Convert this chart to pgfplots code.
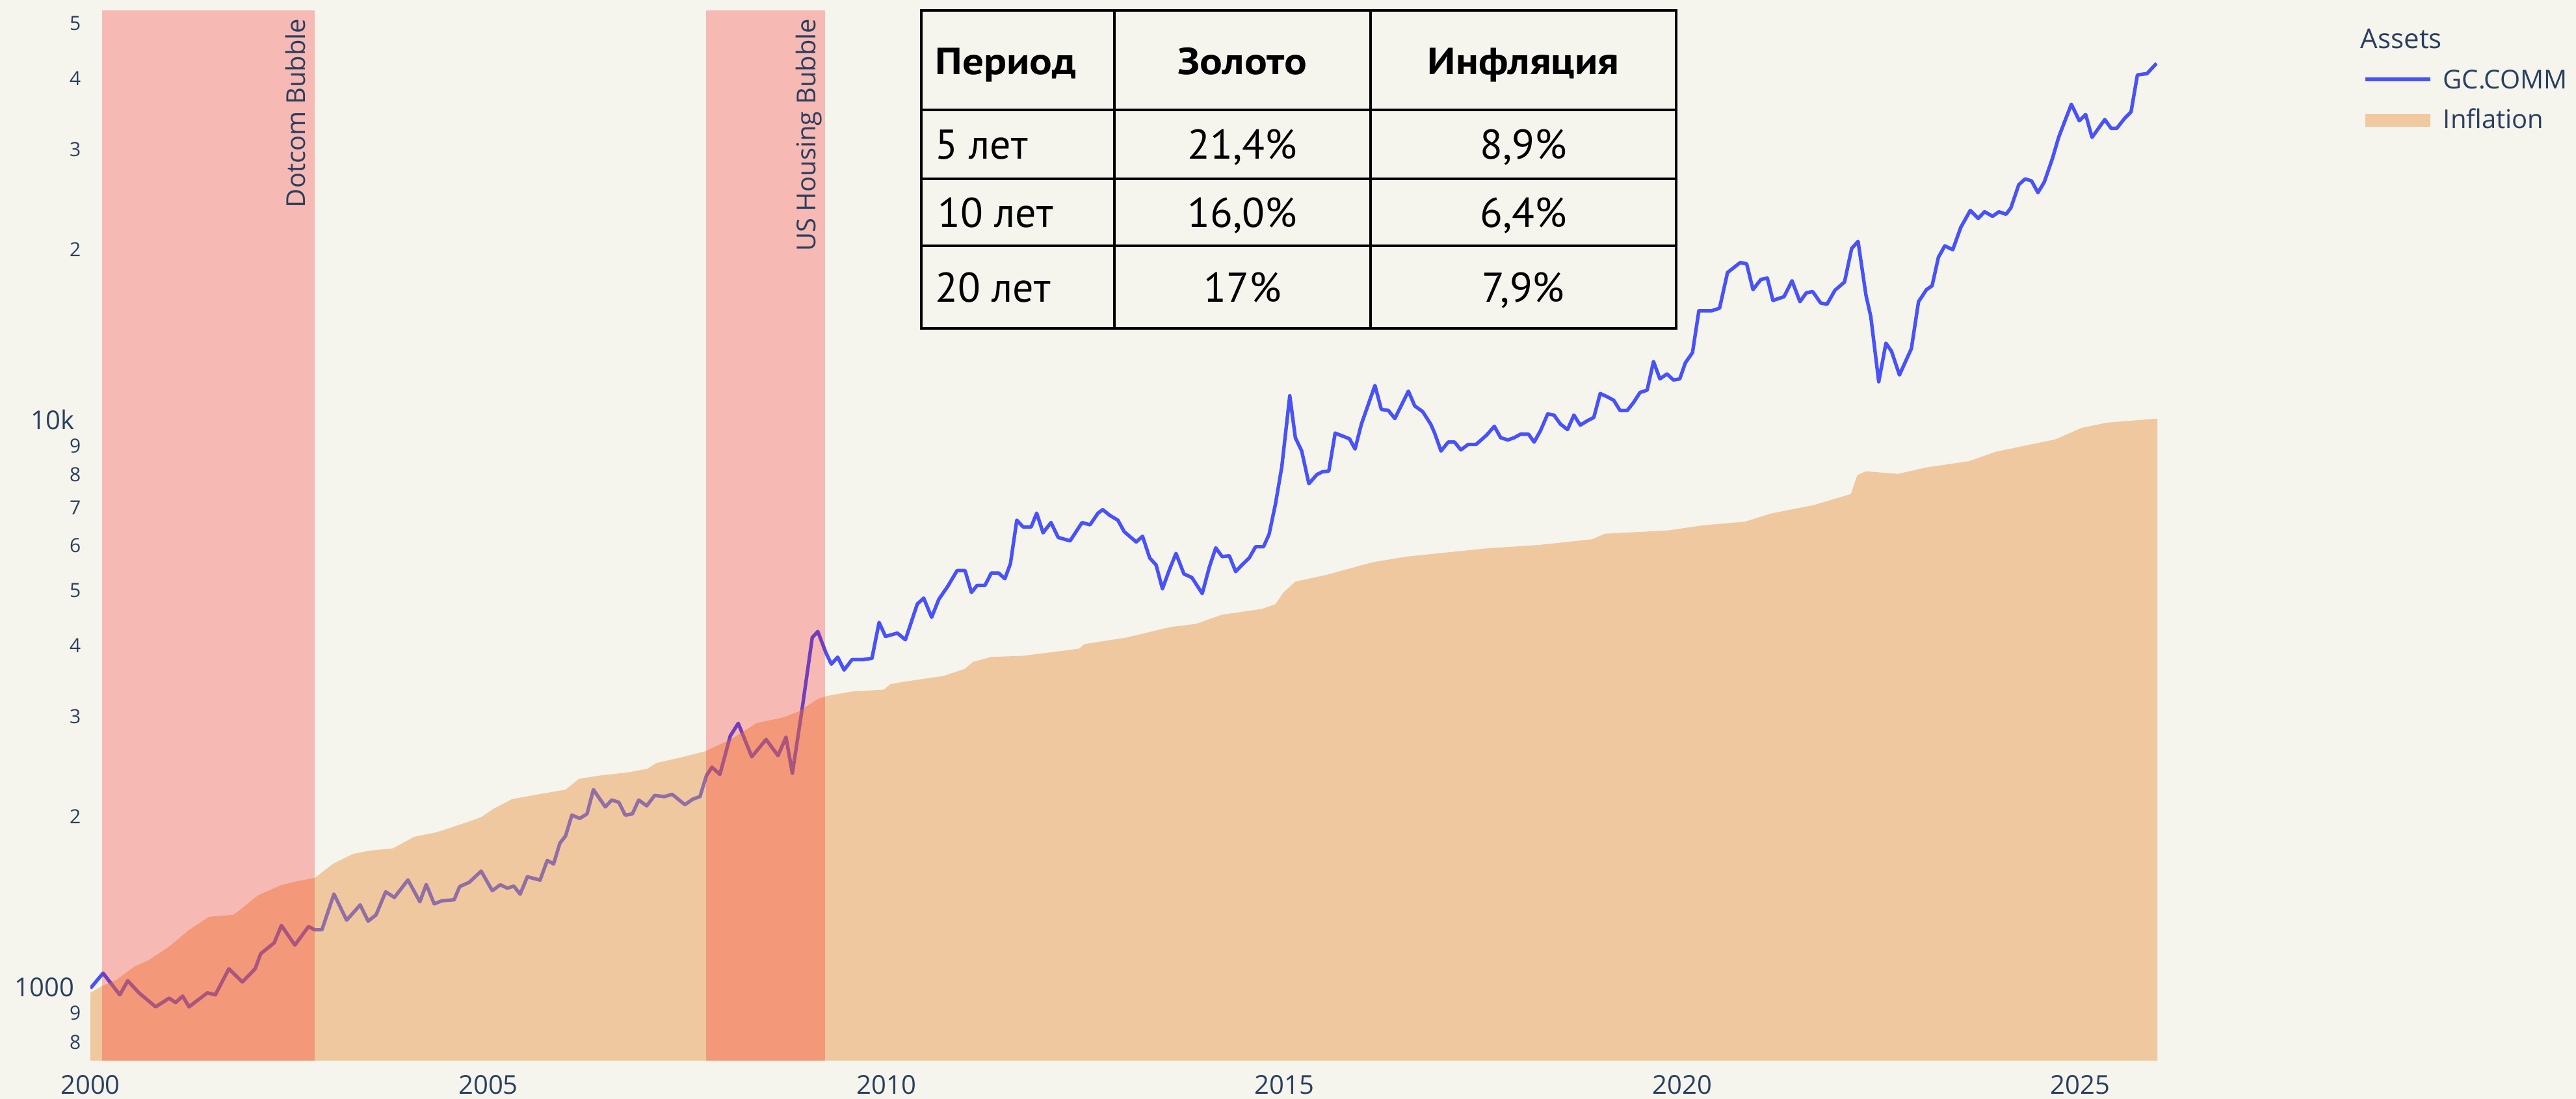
\documentclass[border=0pt]{standalone}
\usepackage{fontspec}
\setmainfont{Open Sans}
\newfontfamily\tabfont{PT Sans}
\newfontfamily\tabhead[FakeStretch=1.12]{PT Sans Bold}
\usepackage{pgfplots}
\usepackage{pgfplotstable}
\pgfplotsset{compat=1.18}
\definecolor{bgc}{RGB}{245,244,237}
\definecolor{navy}{RGB}{42,63,95}
\definecolor{goldc}{RGB}{72,82,248}
\definecolor{inflc}{RGB}{234,148,66}
\definecolor{inflmix}{RGB}{240,201,160}
\newcommand{\mn}[1]{{\fontsize{7.5}{9}\selectfont #1}}
\newcommand{\mj}[1]{{\fontsize{10}{12}\selectfont #1\kern2.5pt}}

\pgfplotstableread{
year val
2000.00 995
2000.16 1058
2000.37 969
2000.47 1026
2000.61 977
2000.82 923
2000.99 956
2001.07 939
2001.16 964
2001.24 923
2001.47 977
2001.57 969
2001.74 1077
2001.91 1021
2002.07 1077
2002.14 1145
2002.31 1197
2002.40 1284
2002.57 1186
2002.74 1278
2002.82 1262
2002.91 1262
2003.06 1459
2003.22 1312
2003.39 1396
2003.49 1307
2003.59 1341
2003.71 1472
2003.82 1439
2003.99 1545
2004.14 1414
2004.22 1517
2004.32 1402
2004.42 1420
2004.57 1425
2004.64 1504
2004.76 1530
2004.91 1601
2005.05 1479
2005.15 1515
2005.24 1494
2005.32 1507
2005.40 1458
2005.49 1565
2005.65 1544
2005.74 1672
2005.82 1649
2005.90 1795
2005.97 1846
2006.05 2010
2006.15 1983
2006.24 2020
2006.32 2229
2006.47 2078
2006.55 2137
2006.64 2117
2006.72 2010
2006.81 2020
2006.89 2137
2006.99 2087
2007.09 2177
2007.21 2167
2007.31 2187
2007.47 2097
2007.57 2145
2007.66 2167
2007.74 2360
2007.81 2441
2007.91 2372
2008.04 2771
2008.14 2918
2008.31 2547
2008.49 2732
2008.64 2559
2008.74 2758
2008.82 2383
2008.94 3072
2009.07 4133
2009.14 4236
2009.24 3891
2009.31 3710
2009.39 3817
2009.47 3623
2009.57 3780
2009.71 3780
2009.82 3799
2009.91 4395
2009.99 4152
2010.14 4208
2010.24 4096
2010.39 4735
2010.47 4850
2010.57 4486
2010.66 4826
2010.77 5082
2010.89 5424
2010.99 5424
2011.07 4963
2011.14 5106
2011.24 5106
2011.32 5372
2011.41 5372
2011.49 5248
2011.56 5578
2011.64 6656
2011.72 6475
2011.82 6475
2011.89 6848
2011.97 6323
2012.07 6593
2012.16 6206
2012.31 6120
2012.46 6593
2012.56 6531
2012.66 6848
2012.72 6946
2012.81 6784
2012.91 6656
2012.99 6352
2013.14 6093
2013.22 6235
2013.31 5709
2013.39 5551
2013.47 5037
2013.56 5454
2013.64 5816
2013.74 5350
2013.84 5273
2013.97 4941
2014.06 5506
2014.14 5948
2014.22 5741
2014.31 5760
2014.39 5402
2014.47 5551
2014.56 5709
2014.64 5975
2014.74 5975
2014.81 6287
2014.89 7106
2014.97 8272
2015.07 11030
2015.14 9303
2015.22 8812
2015.31 7718
2015.41 8008
2015.48 8100
2015.56 8122
2015.64 9478
2015.82 9262
2015.89 8886
2015.97 9833
2016.14 11500
2016.22 10436
2016.31 10388
2016.39 10054
2016.56 11238
2016.64 10584
2016.74 10340
2016.84 9833
2016.89 9478
2016.97 8812
2017.06 9138
2017.14 9138
2017.22 8853
2017.31 9050
2017.41 9050
2017.54 9392
2017.64 9742
2017.72 9303
2017.81 9218
2017.89 9303
2017.97 9436
2018.07 9436
2018.14 9138
2018.22 9571
2018.31 10242
2018.39 10196
2018.47 9833
2018.56 9614
2018.64 10196
2018.72 9789
2018.81 9966
2018.89 10100
2018.97 11130
2019.06 10980
2019.14 10830
2019.22 10388
2019.31 10388
2019.39 10735
2019.47 11175
2019.56 11285
2019.64 12676
2019.72 11810
2019.81 12048
2019.89 11760
2019.97 11810
2020.04 12607
2020.13 13142
2020.21 15572
2020.37 15572
2020.47 15740
2020.57 18188
2020.73 18945
2020.81 18848
2020.89 16970
2020.99 17688
2021.07 17782
2021.14 16240
2021.28 16490
2021.38 17594
2021.48 16157
2021.56 16750
2021.64 16838
2021.74 16074
2021.82 15993
2021.92 16927
2022.04 17503
2022.13 20055
2022.21 20640
2022.31 16575
2022.37 15212
2022.47 11672
2022.56 13654
2022.63 13218
2022.73 12000
2022.88 13356
2022.97 16160
2023.07 16970
2023.14 17235
2023.22 19355
2023.30 20270
2023.40 19955
2023.50 21840
2023.62 23400
2023.72 22660
2023.80 23280
2023.90 22850
2023.98 23280
2024.07 23040
2024.13 23650
2024.23 25990
2024.31 26600
2024.39 26380
2024.47 25160
2024.55 26260
2024.65 28830
2024.73 31480
2024.81 33680
2024.89 36020
2024.99 33680
2025.07 34540
2025.15 31480
2025.31 33850
2025.39 32660
2025.46 32660
2025.56 34020
2025.64 34920
2025.72 40570
2025.84 40780
2025.96 42520
}\goldtab

\pgfplotstableread{
year val
2000.00 742
2000.00 977
2000.15 1005
2000.33 1030
2000.55 1086
2000.73 1115
2000.98 1176
2001.24 1261
2001.49 1330
2001.80 1341
2002.11 1452
2002.39 1511
2002.61 1538
2002.82 1558
2003.05 1650
2003.30 1717
2003.51 1740
2003.80 1756
2004.07 1841
2004.35 1875
2004.64 1933
2004.91 1993
2005.07 2064
2005.30 2145
2005.55 2177
2005.97 2229
2006.14 2329
2006.40 2360
2006.77 2392
2007.00 2426
2007.11 2483
2007.44 2544
2007.72 2603
2008.04 2730
2008.37 2920
2008.71 2990
2008.90 3060
2009.14 3220
2009.24 3257
2009.57 3320
2009.97 3345
2010.05 3420
2010.22 3454
2010.72 3536
2010.99 3641
2011.09 3745
2011.32 3820
2011.72 3838
2012.42 3950
2012.49 4025
2013.02 4133
2013.56 4310
2013.89 4368
2014.22 4535
2014.72 4642
2014.89 4730
2014.99 4963
2015.14 5185
2015.54 5334
2016.11 5610
2016.54 5741
2017.54 5935
2018.21 6020
2018.87 6160
2019.03 6300
2019.82 6384
2020.25 6515
2020.79 6615
2021.12 6840
2021.66 7080
2022.12 7400
2022.20 7990
2022.31 8117
2022.71 8030
2023.06 8240
2023.61 8460
2023.94 8786
2024.69 9240
2025.02 9680
2025.34 9890
2025.97 10050
2025.97 742
}\infltab

\begin{document}
\begin{tikzpicture}[x=1pt,y=1pt]
\useasboundingbox (0,0) rectangle (990.5,422.5);
\fill[bgc] (0,0) rectangle (990.5,422.5);
\begin{axis}[
  at={(34.75pt,14.75pt)}, anchor=south west,
  scale only axis, width=794.75pt, height=403.85pt,
  xmin=2000, xmax=2025.97, ymode=log, ymin=742, ymax=52780,
  axis line style={draw=none},
  major tick style={draw=none}, minor tick style={draw=none},
  major tick length=0pt,
  /pgf/number format/assume math mode=true,
  xtick={2000,2005,2010,2015,2020,2025},
  xticklabels={2000,2005,2010,2015,2020,2025},
  ytick={800,900,1000,2000,3000,4000,5000,6000,7000,8000,9000,10000,20000,30000,40000,50000},
  yticklabels={\mn{8},\mn{9},\mj{1000},\mn{2},\mn{3},\mn{4},\mn{5},\mn{6},\mn{7},\mn{8},\mn{9},\mj{10k},\mn{2},\mn{3},\mn{4},\mn{5}},
  xticklabel style={inner sep=0pt, yshift=-5.5pt, font=\fontsize{10}{12}\selectfont, text=navy},
  yticklabel style={inner sep=0pt, xshift=-3.5pt, text=navy},
]
\addplot[goldc, line width=1.35pt, line join=round] table[x=year,y=val] {\goldtab};
\addplot[draw=none, fill=inflc, fill opacity=0.45] table[x=year,y=val] {\infltab} -- cycle;
\addplot[draw=none, fill=red, fill opacity=0.24] coordinates {(2000.15,742) (2000.15,52780) (2002.82,52780) (2002.82,742)} -- cycle;
\addplot[draw=none, fill=red, fill opacity=0.24] coordinates {(2007.74,742) (2007.74,52780) (2009.23,52780) (2009.23,742)} -- cycle;
\end{axis}
% period annotations
\node[rotate=90, anchor=base east, inner sep=0pt, text=navy, font=\fontsize{10}{12}\selectfont] at (117.4,415.5) {Dotcom Bubble};
\node[rotate=90, anchor=base east, inner sep=0pt, text=navy, font=\fontsize{10}{12}\selectfont] at (313.5,415.5) {US Housing Bubble};
% legend
\node[anchor=base west, inner sep=0pt, text=navy, font=\fontsize{10.5}{12}\selectfont] at (907.5,403.75) {Assets};
\draw[goldc, line width=1.3pt] (909.5,392) -- (934.5,392);
\node[anchor=base west, inner sep=0pt, text=navy, font=\fontsize{10}{12}\selectfont] at (939.25,388.25) {GC.COMM};
\fill[inflmix] (909.5,373.75) rectangle (934.5,378.75);
\node[anchor=base west, inner sep=0pt, text=navy, font=\fontsize{10}{12}\selectfont] at (939.25,373) {Inflation};
% table
\fill[bgc] (354.25,296.25) rectangle (644.5,418.5);
\draw[black, line width=0.8pt] (354.25,296.25) rectangle (644.5,418.5);
\draw[black, line width=0.8pt] (354.25,380.25) -- (644.5,380.25);
\draw[black, line width=0.8pt] (354.25,353.75) -- (644.5,353.75);
\draw[black, line width=0.8pt] (354.25,328) -- (644.5,328);
\draw[black, line width=0.8pt] (428.5,296.25) -- (428.5,418.5);
\draw[black, line width=0.8pt] (527,296.25) -- (527,418.5);
\begin{scope}[every node/.style={inner sep=0pt}]
\node[anchor=base west, font=\tabhead\fontsize{14.5}{16}\selectfont] at (359.5,393.75) {Период};
\node[anchor=base, font=\tabhead\fontsize{14.5}{16}\selectfont] at (477.75,393.75) {Золото};
\node[anchor=base, font=\tabhead\fontsize{14.5}{16}\selectfont] at (585.75,393.75) {Инфляция};
\node[anchor=base west, font=\tabfont\fontsize{16}{18}\selectfont] at (359.5,361.25) {5 лет};
\node[anchor=base, font=\tabfont\fontsize{16}{18}\selectfont] at (477.75,361.25) {21,4\%};
\node[anchor=base, font=\tabfont\fontsize{16}{18}\selectfont] at (585.75,361.25) {8,9\%};
\node[anchor=base west, font=\tabfont\fontsize{16}{18}\selectfont] at (360.5,335) {10 лет};
\node[anchor=base, font=\tabfont\fontsize{16}{18}\selectfont] at (477.75,335) {16,0\%};
\node[anchor=base, font=\tabfont\fontsize{16}{18}\selectfont] at (585.75,335) {6,4\%};
\node[anchor=base west, font=\tabfont\fontsize{16}{18}\selectfont] at (359.5,306.25) {20 лет};
\node[anchor=base, font=\tabfont\fontsize{16}{18}\selectfont] at (477.75,306.25) {17\%};
\node[anchor=base, font=\tabfont\fontsize{16}{18}\selectfont] at (585.75,306.25) {7,9\%};
\end{scope}
\end{tikzpicture}
\end{document}
